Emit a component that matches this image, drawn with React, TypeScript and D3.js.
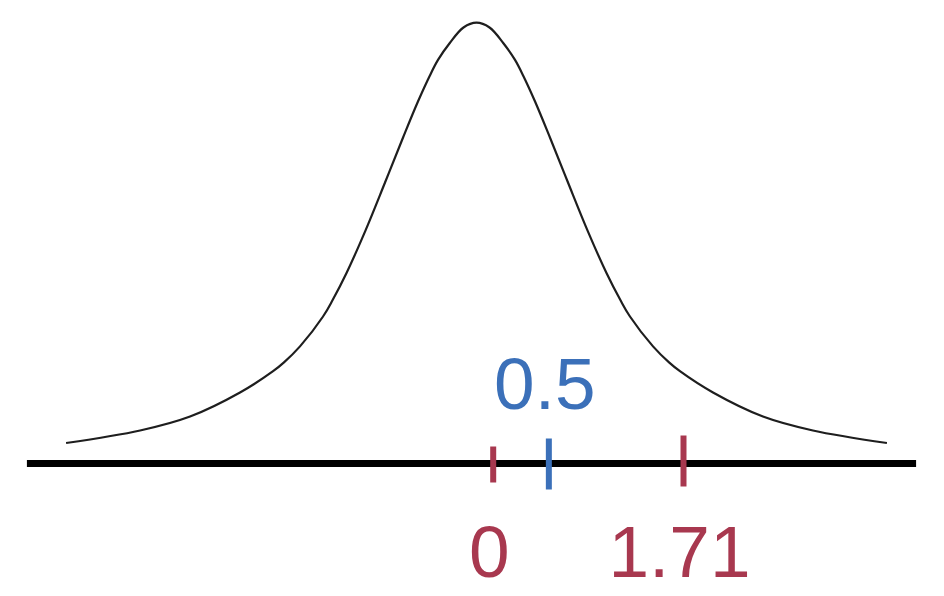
import React from "react";
import * as d3 from "d3";

// Curve: x in axis units, y as height relative to the peak
const curveX = [
  -3.838, -3.173, -2.724, -2.275, -1.978, -1.88, -1.736, -1.529, -1.444, -1.318,
  -1.147, -0.972, -0.81, -0.676, -0.572, -0.496, -0.39, -0.267, -0.15,
  -0.033, 0.09, 0.196, 0.272, 0.376, 0.51, 0.672, 0.847, 1.018, 1.144, 1.229,
  1.436, 1.58, 1.678, 1.975, 2.424, 2.873, 3.538,
];
const curveY = [
  0.0465, 0.0749, 0.1066, 0.1611, 0.2094, 0.2294, 0.2657, 0.3335, 0.3702, 0.4322,
  0.529, 0.6375, 0.7396, 0.8212, 0.8786, 0.9156, 0.954, 0.9891, 1.0,
  0.9891, 0.954, 0.9156, 0.8786, 0.8212, 0.7396, 0.6375, 0.529, 0.4322, 0.3702, 0.3335,
  0.2657, 0.2294, 0.2094, 0.1611, 0.1066, 0.0749, 0.0465,
];

// Axis extent (axis units)
const axisExtent = [-4.19, 3.8];

// Marked values on the axis
const markValues = [0, 1.71, 0.5];
const markLabels = ["0", "1.71", "0.5"];
const markGroups = ["below", "below", "above"];

const W = 944;
const H = 596;

const RED = "#a8384f";
const BLUE = "#3b70b9";

const groupStyle: Record<string, { color: string; labelY: number }> = {
  below: { color: RED, labelY: 577 },
  above: { color: BLUE, labelY: 409 },
};
// tick extents above/below the axis, per mark (style only)
const tickExtent: Record<string, [number, number]> = {
  "0": [-17, 19],
  "1.71": [-28, 23],
  "0.5": [-25, 26],
};

export default function App() {
  const x = d3.scaleLinear().domain([0, 1.71]).range([493.2, 683.5]);
  const y = d3.scaleLinear().domain([0, 1]).range([463.5, 22.7]);

  const pts = curveX.map((v, i) => [v, curveY[i]] as [number, number]);
  const line = d3
    .line<[number, number]>()
    .x((d) => x(d[0]))
    .y((d) => y(d[1]))
    .curve(d3.curveCatmullRom.alpha(0.5));

  const axisY = y(0);

  return (
    <svg
      width={W}
      height={H}
      viewBox={`0 0 ${W} ${H}`}
      style={{ position: "absolute", left: 0, top: 0, background: "#fff" }}
    >
      <rect x={0} y={0} width={W} height={H} fill="#fff" />
      <path d={line(pts) || ""} fill="none" stroke="#1e1e1e" strokeWidth={2.2} />
      <line
        x1={x(axisExtent[0])}
        x2={x(axisExtent[1])}
        y1={axisY}
        y2={axisY}
        stroke="#000"
        strokeWidth={7}
      />
      {markValues.map((v, i) => {
        const st = groupStyle[markGroups[i]];
        const ext = tickExtent[markLabels[i]];
        return (
          <g key={i}>
            <line
              x1={x(v)}
              x2={x(v)}
              y1={axisY + ext[0]}
              y2={axisY + ext[1]}
              stroke={st.color}
              strokeWidth={6}
            />
            <text
              x={x(v) - 4}
              y={st.labelY}
              fill={st.color}
              fontFamily="'Liberation Sans', Arial, sans-serif"
              fontSize={73}
              textAnchor="middle"
            >
              {markLabels[i]}
            </text>
          </g>
        );
      })}
    </svg>
  );
}
